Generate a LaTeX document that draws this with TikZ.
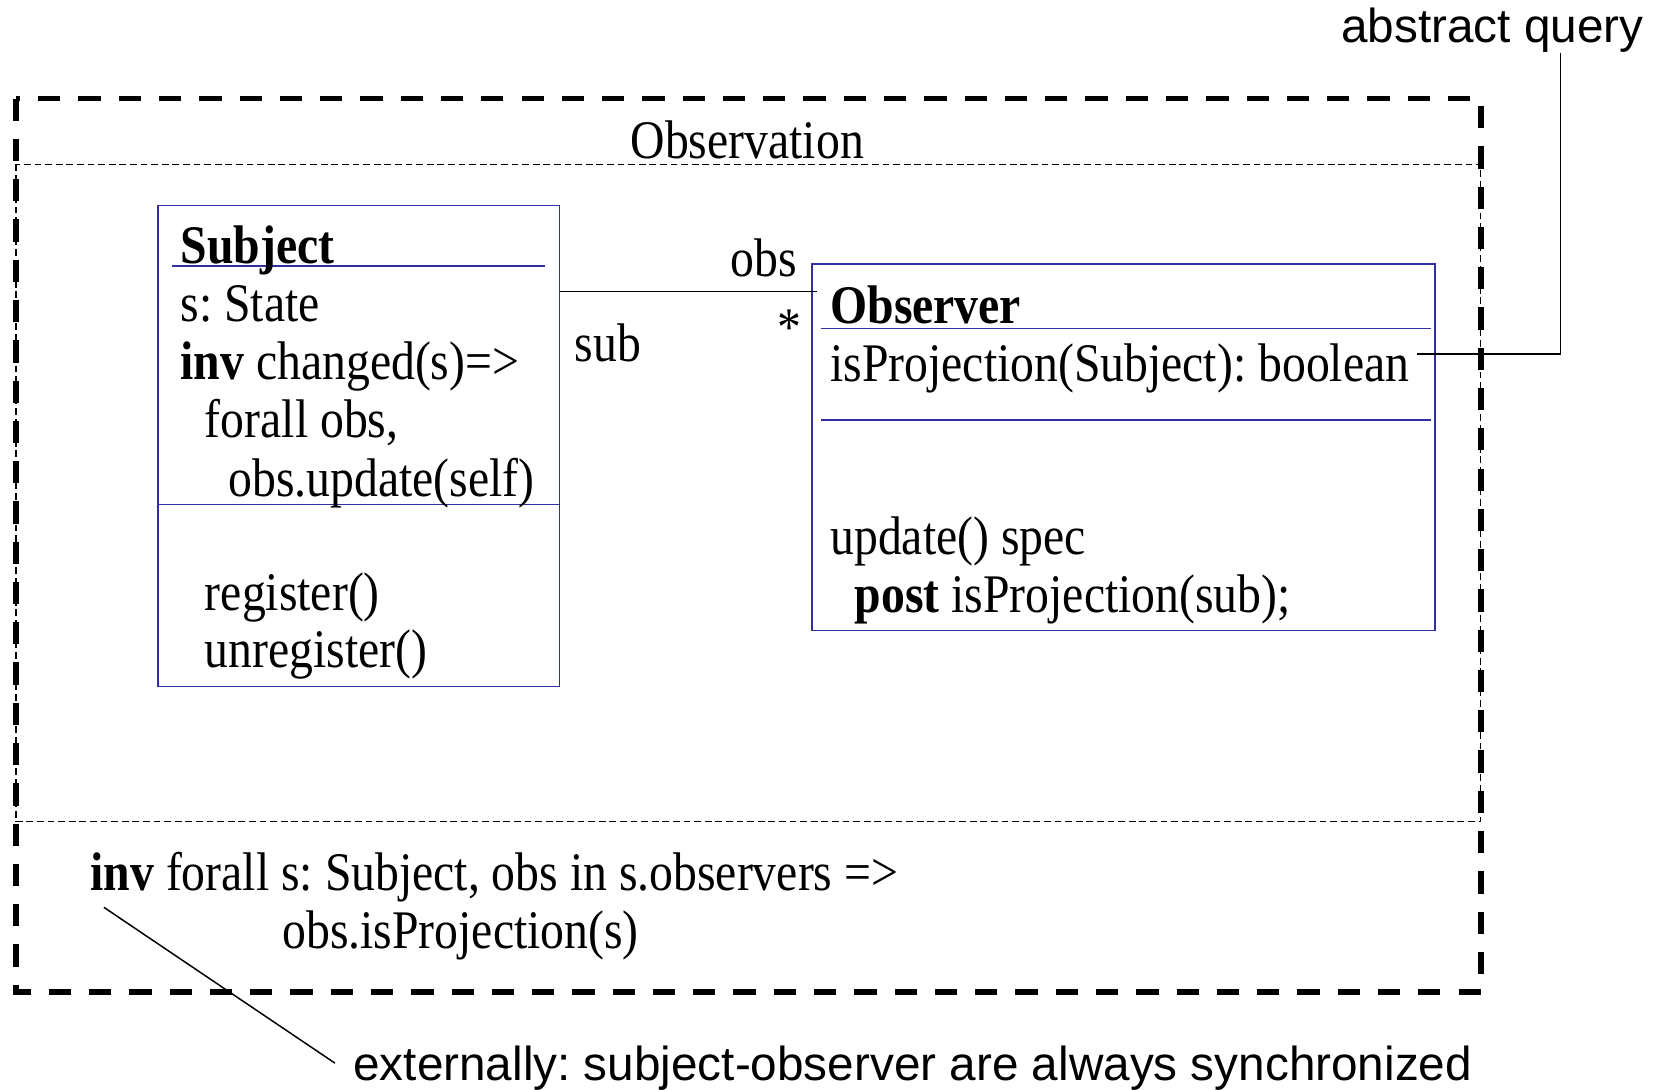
\documentclass[tikz,border=0pt]{standalone}
\usepackage{fontspec}
\usepackage{graphicx}
\setmainfont{Liberation Serif}
\newfontfamily\annfont{Liberation Sans}
\newcommand{\tall}[1]{\scalebox{1}[1.14]{#1}}
\definecolor{umlblue}{RGB}{48,48,160}
\frenchspacing
\begin{document}
\begin{tikzpicture}[x=0.5pt,y=-0.5pt,
  txt/.style={inner sep=0pt,anchor=base west,font=\fontsize{22.5}{27}\selectfont},
  ann/.style={inner sep=0pt,anchor=base west,font=\annfont\fontsize{22.5}{27}\selectfont},
  umlbox/.style={draw=umlblue,line width=0.8pt,inner sep=0pt,anchor=north west},
  sepline/.style={draw=umlblue,line width=0.8pt},
  heavydash/.style={line width=2.6pt,dash pattern=on 10.5pt off 8.5pt},
  thindash/.style={line width=0.6pt,dash pattern=on 3.2pt off 1.8pt},
  conn/.style={line width=0.7pt}]
\useasboundingbox (0,0) rectangle (1568,1028);

% package frame
\draw[thindash] (15,155) rectangle (1397,775);
\draw[heavydash] (15,93) rectangle (1397,936);
\node[txt,anchor=base] (pkg) at (705,150) {\tall{Observation}};

% class Subject
\node[umlbox,minimum width=189.5pt,minimum height=227pt] (subject) at (148,193) {};
\draw[sepline] (162,251) -- (514,251);
\draw[sepline] (148,476) -- (527,476);
\node[txt] (s1) at (170,249) {\tall{\textbf{Subject}}};
\node[txt] (s2) at (170,303) {\tall{s: State}};
\node[txt] (s3) at (170,358) {\tall{\textbf{inv} changed(s)=>}};
\node[txt] (s4) at (193,413) {\tall{forall obs,}};
\node[txt] (s5) at (215,468) {\tall{obs.update(self)}};
\node[txt] (s6) at (193,576) {\tall{register()}};
\node[txt] (s7) at (193,630) {\tall{unregister()}};

% class Observer
\node[umlbox,minimum width=294pt,minimum height=173pt] (observer) at (765,248) {};
\draw[sepline] (775,310) -- (1350,310);
\draw[sepline] (775,396) -- (1350,396);
\node[txt] (o1) at (783,305) {\tall{\textbf{Observer}}};
\node[txt] (o2) at (783,360) {\tall{isProjection(Subject): boolean}};
\node[txt] (o3) at (783,523) {\tall{update() spec}};
\node[txt] (o4) at (806,578) {\tall{\textbf{post} isProjection(sub);}};

% association
\coordinate (assocend) at (771,275);
\draw[conn] (subject.east |- assocend) -- (assocend);
\node[txt] (obsrole) at (689,261) {\tall{obs}};
\node[txt] (subrole) at (542,341) {\tall{sub}};
\node[txt,anchor=base] (mult) at (745,326) {\tall{*}};

% package invariant
\node[txt] (inv1) at (85,840) {\tall{\textbf{inv} forall s: Subject, obs in s.observers =>}};
\node[txt] (inv2) at (266,895) {\tall{obs.isProjection(s)}};

% annotations
\node[ann] (aq) at (1265,40) {abstract query};
\coordinate (aqx) at (1472,0);
\coordinate (aqend) at (1337,334);
\draw[conn] (aq.south -| aqx) |- (aqend);

\node[ann] (ext) at (333,1019) {externally: subject-observer are always synchronized};
\coordinate (invpt) at (98,856);
\coordinate (extpt) at (316,1003);
\draw[conn] (invpt) -- (extpt);
\end{tikzpicture}
\end{document}
